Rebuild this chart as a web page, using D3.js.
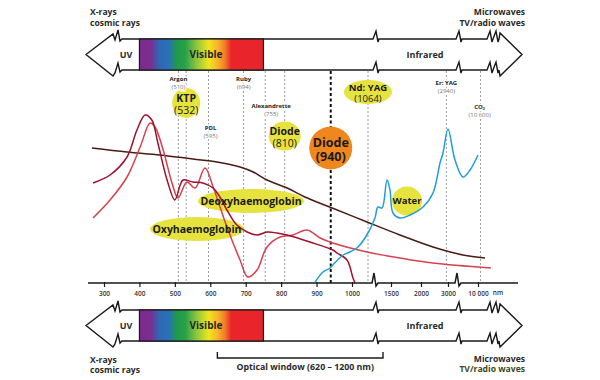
<!DOCTYPE html>
<html><head><meta charset="utf-8">
<script src="https://cdn.jsdelivr.net/npm/d3@7"></script>
<style>
body{margin:0;background:#fff}
svg{display:block}
text{font-family:"Open Sans",sans-serif}
</style>
</head><body>
<svg id="c" width="600" height="380"></svg>
<script>
// ---------------- DATA ----------------
const axisTicks = [300, 400, 500, 600, 700, 800, 900, 1000, 1500, 2000, 3000, 10000];
const axisTickLabels = ["300", "400", "500", "600", "700", "800", "900", "1000", "1500", "2000", "3000", "10 000"];

const laserNames = ["Argon", "KTP", "PDL", "Ruby", "Alexandrette", "Diode", "Diode", "Nd: YAG", "Er: YAG", "CO₂"];
const laserWavelengths = [510, 532, 595, 694, 755, 810, 940, 1064, 2940, 10600];
const laserValueLabels = ["(510)", "(532)", "(595)", "(694)", "(755)", "(810)", "(940)", "(1064)", "(2940)", "(10 600)"];

const visibleRange = [400, 750];
const opticalWindow = [620, 1200];

// Oxyhaemoglobin (relative absorption)
const oxyNm = [269, 317, 365, 402, 430, 444, 467, 492, 509, 534, 557, 585, 608, 647, 684, 706, 732, 760, 797, 833, 873, 910, 946, 1060, 1650, 2444, 13000];
const oxyAbs = [32.5, 41.5, 53, 68, 80, 78, 66.5, 50, 42.5, 50.5, 47.5, 57.5, 48, 28, 11.5, 3, 6.5, 18, 23, 24, 26.5, 22.5, 20, 15.5, 12.5, 10, 7.5];

// Deoxyhaemoglobin
const deoxyNm = [269, 317, 365, 393, 416, 435, 452, 478, 500, 515, 523, 551, 579, 608, 627, 647, 675, 704, 732, 760, 788, 817, 881, 946, 958, 986, 1004, 1012];
const deoxyAbs = [50, 54, 63, 76.5, 84, 81.5, 70, 51.5, 41.5, 49, 51.5, 50.5, 50, 47.5, 43, 36.5, 29, 25.5, 24, 25.5, 25, 24, 20.5, 16.5, 15, 11.5, 2.5, 0];

// Melanin
const melaninNm = [266, 365, 458, 551, 619, 684, 721, 760, 817, 867, 944, 1060, 1650, 2444, 6500, 11633];
const melaninAbs = [67.5, 65.5, 64, 62, 60.5, 58, 55.5, 51.5, 47.5, 43, 37.5, 30.5, 24, 18, 14, 12.5];

// Water
const waterNm = [896, 918, 938, 946, 975, 994, 1024, 1064, 1127, 1154, 1191, 1350, 1462, 1533, 1650, 1817, 2074, 2444, 2704, 2815, 3000, 4633, 6500, 8133, 10000];
const waterAbs = [0.5, 5.5, 7.5, 9, 14, 15.5, 18, 25, 32.5, 38, 37.5, 51.5, 46.5, 35, 32.5, 34, 38, 45, 60, 65, 77, 61.5, 53, 56.5, 64];

// ---------------- DRAWING ----------------
const svg = d3.select("#c");
const FONT = '"Open Sans", sans-serif';
const INK = "#1a1a1a";

// piecewise (broken) wavelength axis
const x = d3.scaleLinear()
  .domain([300, 1000, 1064, 1200, 1500, 2000, 3000, 10000])
  .range([104, 352, 368, 383, 391, 421, 448, 478]);
const y = d3.scaleLinear().domain([0, 100]).range([283, 83]);
const AXIS_Y = 283;

// gradient for visible spectrum
const defs = svg.append("defs");
const grad = defs.append("linearGradient").attr("id", "spec").attr("x1", "0").attr("x2", "1");
[[0, "#7b2a8e"], [0.09, "#7d2c90"], [0.16, "#2d68b3"], [0.24, "#2a72b8"], [0.3, "#1f9a4b"],
 [0.37, "#2aa04a"], [0.46, "#8dc63f"], [0.56, "#efe51e"], [0.63, "#f7b52a"], [0.69, "#f27a2a"],
 [0.74, "#e8252a"], [1, "#e8252a"]].forEach(s => grad.append("stop").attr("offset", s[0]).attr("stop-color", s[1]));

function drawBand(t) {
  const b = t + 31, m = t + 15.5;
  const g = svg.append("g");
  const breaks = [376, 459, 490, 496];
  const p = d3.path();
  p.moveTo(86, m);
  p.lineTo(113, t - 5); p.lineTo(115, t + 1); p.lineTo(118, t - 9); p.lineTo(120, t + 2); p.lineTo(122, t);
  for (const bx of breaks) { p.lineTo(bx - 3, t); p.lineTo(bx, t - 8); p.lineTo(bx + 2, t + 3); p.lineTo(bx + 3, t); }
  p.lineTo(500, t - 6); p.lineTo(522, m); p.lineTo(500, b + 6);
  for (const bx of breaks.slice().reverse()) { p.lineTo(bx + 3, b); p.lineTo(bx + 2, b + 3); p.lineTo(bx, b - 8); p.lineTo(bx - 3, b); }
  p.lineTo(122, b); p.lineTo(120, b + 2); p.lineTo(118, b - 7); p.lineTo(115, b + 3); p.lineTo(113, b + 6);
  p.closePath();
  g.append("path").attr("d", p.toString()).attr("fill", "#fff").attr("stroke", INK).attr("stroke-width", 1.4).attr("stroke-linejoin", "miter");
  g.append("rect").attr("x", x(visibleRange[0])).attr("y", t).attr("width", x(visibleRange[1]) - x(visibleRange[0])).attr("height", 31)
    .attr("fill", "url(#spec)").attr("stroke", INK).attr("stroke-width", 1.2);
  const tx = (s, xx, fs) => g.append("text").attr("x", xx).attr("y", m).attr("dy", "0.35em").attr("text-anchor", "middle")
    .attr("font-size", fs).attr("font-weight", 700).attr("fill", "#2a2a2a").text(s);
  tx("UV", 126, 9);
  tx("Visible", 206, 10);
  tx("Infrared", 425, 9);
}
drawBand(39);
drawBand(310);

// side labels
function sideText(s, xx, yy, anchor, col) {
  svg.append("text").attr("x", xx).attr("y", yy).attr("text-anchor", anchor).attr("font-size", 8.6)
    .attr("font-weight", 700).attr("fill", col || "#2a2a2a").text(s);
}
sideText("X-rays", 90, 15, "start"); sideText("cosmic rays", 90, 26, "start");
sideText("Microwaves", 525, 15, "end"); sideText("TV/radio waves", 525, 26, "end");
sideText("X-rays", 90, 363, "start"); sideText("cosmic rays", 90, 373, "start");
sideText("Microwaves", 525, 362, "end"); sideText("TV/radio waves", 525, 372, "end", "#3b4a1c");

// optical window bracket
const ow = svg.append("g");
ow.append("path").attr("d", `M${x(opticalWindow[0])},352 V358 H${x(opticalWindow[1])} V352`)
  .attr("fill", "none").attr("stroke", INK).attr("stroke-width", 1.4);
ow.append("text").attr("x", (x(opticalWindow[0]) + x(opticalWindow[1])) / 2 + 5).attr("y", 370).attr("text-anchor", "middle")
  .attr("font-size", 8.8).attr("font-weight", 700).attr("fill", "#2a2a2a")
  .text(`Optical window (${opticalWindow[0]} – ${opticalWindow[1]} nm)`);

// laser lines
const lines = svg.append("g");
laserWavelengths.forEach((w, i) => {
  const bold = i === 6;
  lines.append("line").attr("x1", x(w)).attr("x2", x(w)).attr("y1", 71).attr("y2", AXIS_Y)
    .attr("stroke", bold ? "#111" : "#9a9a9a").attr("stroke-width", bold ? 2 : 1)
    .attr("stroke-dasharray", bold ? "3,2.5" : "2,2");
});

// axis
const axG = svg.append("g").attr("transform", `translate(0,${AXIS_Y})`);
axG.call(d3.axisBottom(x).tickValues(axisTicks).tickFormat((d, i) => axisTickLabels[i]).tickSizeInner(4).tickSizeOuter(0).tickPadding(4));
axG.select(".domain").remove();
axG.selectAll(".tick line").attr("y1", -1).attr("stroke", INK).attr("stroke-width", 1.2);
axG.selectAll(".tick text").attr("font-family", FONT).attr("font-size", 6.5).attr("font-weight", 600).attr("fill", "#333");
const ap = d3.path();
ap.moveTo(88, 0);
[375, 458].forEach(bx => { ap.lineTo(bx - 3, 0); ap.lineTo(bx - 1, -10); ap.lineTo(bx + 1, 3); ap.lineTo(bx + 3, 0); });
ap.lineTo(518, 0);
axG.append("path").attr("d", ap.toString()).attr("fill", "none").attr("stroke", INK).attr("stroke-width", 1.5);
axG.append("text").attr("x", 498).attr("y", 12).attr("text-anchor", "middle").attr("font-size", 6.5)
  .attr("font-weight", 600).attr("fill", "#333").text("nm");

// annotation shapes
const YEL = "#e6e23e", ORA = "#f0861e";
const shapes = svg.append("g");
const labelTexts = svg.append("g");

// chromophore label ellipses
const hbLabels = [
  {text: "Deoxyhaemoglobin", cx: 251, cy: 201, rx: 53, ry: 12},
  {text: "Oxyhaemoglobin", cx: 197, cy: 229, rx: 47, ry: 12},
  {text: "Water", cx: 407, cy: 201, rx: 15, ry: 14.5}
];
hbLabels.forEach(l => {
  shapes.append("ellipse").attr("cx", l.cx).attr("cy", l.cy).attr("rx", l.rx).attr("ry", l.ry).attr("fill", YEL);
  labelTexts.append("text").attr("x", l.cx).attr("y", l.cy).attr("dy", "0.35em").attr("text-anchor", "middle")
    .attr("font-size", l.text === "Water" ? 9.5 : 10.5).attr("font-weight", 700).attr("fill", INK).text(l.text);
});

// laser labels layout (by index)
const laserLayout = [
  {type: "small", y: 81, dx: 0},
  {type: "bubble", cy: 103, rx: 14, ry: 15, fs: 10.5, c: YEL},
  {type: "small", y: 130, dx: 2},
  {type: "small", y: 81, dx: 0},
  {type: "small", y: 108, dx: 6},
  {type: "bubble", cy: 136, rx: 16, ry: 14.5, fs: 10.5, c: YEL},
  {type: "bubble", cy: 148, rx: 21.5, ry: 21.5, fs: 12.5, c: ORA},
  {type: "bubble", cy: 92, rx: 24, ry: 12, fs: 9.5, c: YEL},
  {type: "small", y: 85, dx: 0},
  {type: "small", y: 109, dx: -1}
];
laserWavelengths.forEach((w, i) => {
  const L = laserLayout[i], cx = x(w) + (L.dx || 0);
  if (L.type === "small") {
    labelTexts.append("text").attr("x", cx).attr("y", L.y).attr("text-anchor", "middle")
      .attr("font-size", 6).attr("font-weight", 700).attr("fill", "#222")
      .attr("stroke", "#fff").attr("stroke-width", 3).attr("paint-order", "stroke").text(laserNames[i]);
    labelTexts.append("text").attr("x", cx).attr("y", L.y + 7.5).attr("text-anchor", "middle")
      .attr("font-size", 6).attr("fill", "#777")
      .attr("stroke", "#fff").attr("stroke-width", 3).attr("paint-order", "stroke").text(laserValueLabels[i]);
  } else {
    shapes.append("ellipse").attr("cx", cx).attr("cy", L.cy).attr("rx", L.rx).attr("ry", L.ry).attr("fill", L.c);
    const big = i === 6;
    labelTexts.append("text").attr("x", cx).attr("y", L.cy - 1).attr("text-anchor", "middle")
      .attr("font-size", L.fs).attr("font-weight", 700).attr("fill", INK).text(laserNames[i]);
    labelTexts.append("text").attr("x", cx).attr("y", L.cy + L.fs * 1.0).attr("text-anchor", "middle")
      .attr("font-size", L.fs).attr("font-weight", big ? 700 : 400).attr("fill", INK).text(laserValueLabels[i]);
  }
});

// curves
const curves = svg.insert("g", () => labelTexts.node());
const line = d3.line().x(d => x(d[0])).y(d => y(d[1])).curve(d3.curveCatmullRom.alpha(0.5));
const series = [
  {nm: melaninNm, v: melaninAbs, c: "#4a1b12"},
  {nm: oxyNm, v: oxyAbs, c: "#d8414f"},
  {nm: deoxyNm, v: deoxyAbs, c: "#a0112e"},
  {nm: waterNm, v: waterAbs, c: "#1f9fd6"}
];
series.forEach(s => {
  curves.append("path").attr("d", line(d3.zip(s.nm, s.v))).attr("fill", "none")
    .attr("stroke", s.c).attr("stroke-width", 1.5);
});
</script>
</body></html>
